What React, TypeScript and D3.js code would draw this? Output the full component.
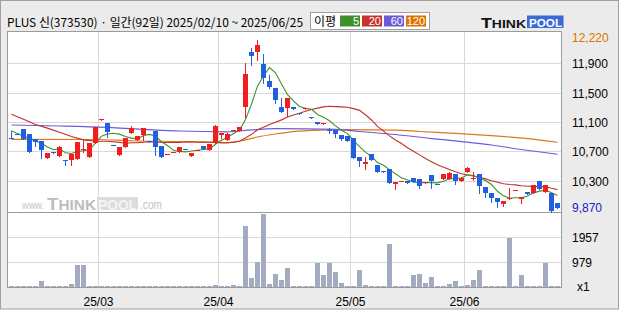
import React from "react";
import * as d3 from "d3";

// ---------- data ----------
const titleText = "PLUS 신(373530) · 일간(92일) 2025/02/10 ~ 2025/06/25";

const dates = [
  "02/10","02/11","02/12","02/13","02/14","02/17","02/18","02/19","02/20","02/21","02/24","02/25","02/26","02/27","02/28",
  "03/04","03/05","03/06","03/07","03/10","03/11","03/12","03/13","03/14","03/17","03/18","03/19","03/20","03/21","03/24","03/25","03/26","03/27","03/28","03/31",
  "04/01","04/02","04/03","04/04","04/07","04/08","04/09","04/10","04/11","04/14","04/15","04/16","04/17","04/18","04/21","04/22","04/23","04/24","04/25","04/28","04/29","04/30",
  "05/02","05/07","05/08","05/09","05/12","05/13","05/14","05/15","05/16","05/19","05/20","05/21","05/22","05/23","05/26","05/27","05/28","05/29","05/30",
  "06/02","06/04","06/05","06/09","06/10","06/11","06/12","06/13","06/16","06/17","06/18","06/19","06/20","06/23","06/24","06/25",
];

const opens = [
  10885,10940,11005,10930,10865,10840,10610,10685,10640,10575,10580,10595,10715,10620,10815,11130,11085,10785,10650,10760,
  10955,10850,10920,10835,10975,10770,10655,10685,10695,10735,10640,10715,10770,10710,10815,10920,10855,10985,10975,11305,
  12060,12055,11885,11660,11565,11305,11290,11300,11215,11275,11170,11100,11075,10985,10990,10920,10910,10875,10620,10530,
  10660,10510,10430,10455,10250,10290,10295,10335,10320,10260,10375,10255,10325,10325,10390,10295,10415,10320,10390,10210,
  10130,10060,9980,10050,10165,10050,10145,10135,10295,10145,10130,9995,
];
const highs = [
  10975,10940,11005,10930,10865,10840,10675,10685,10770,10575,10665,10825,10855,10815,11030,11135,11085,10785,10755,10875,
  11045,10910,11015,10835,10975,10770,10660,10690,10755,10735,10675,10720,10770,10795,11060,10950,10955,10990,11030,11905,
  12115,12220,12025,11740,11565,11420,11425,11300,11215,11285,11170,11100,11085,11015,10990,10920,10910,10875,10620,10615,
  10660,10510,10430,10455,10280,10295,10295,10335,10320,10280,10375,10255,10390,10415,10390,10350,10485,10415,10390,10210,
  10130,10060,10020,10200,10170,10070,10145,10240,10295,10240,10130,9995,
];
const lows = [
  10875,10935,10870,10695,10775,10610,10610,10680,10640,10510,10510,10595,10695,10620,10815,11130,10900,10780,10650,10760,
  10955,10850,10855,10830,10650,10620,10655,10685,10695,10730,10640,10715,10735,10710,10815,10875,10855,10985,10975,11165,
  11880,11950,11635,11565,11360,11240,11180,11280,11205,11275,11160,11075,11075,10945,10900,10855,10840,10610,10500,10460,
  10580,10415,10420,10270,10190,10290,10265,10285,10200,10260,10195,10250,10325,10325,10250,10295,10415,10305,10135,10080,
  10010,9940,9955,10050,10165,9995,10115,10135,10180,10145,9870,9925,
];
const closes = [
  10875,10935,10870,10695,10830,10720,10675,10680,10755,10565,10665,10825,10725,10815,11030,11135,10965,10780,10755,10875,
  11020,10910,11015,10830,10760,10620,10660,10690,10755,10730,10675,10720,10735,10795,11045,10950,10930,10990,11030,11760,
  12005,12155,11705,11580,11405,11240,11425,11280,11205,11285,11160,11075,11085,10975,10935,10865,10840,10610,10565,10555,
  10580,10415,10420,10270,10280,10295,10265,10285,10230,10280,10295,10250,10390,10400,10295,10335,10470,10335,10225,10135,
  10065,10005,10020,10060,10170,10070,10115,10240,10180,10240,9890,9925,
];
const volumes = [
  30,30,30,65,30,260,30,30,65,30,145,885,885,65,65,30,30,30,30,30,
  30,65,65,30,65,30,30,30,30,30,30,30,30,65,105,30,30,105,30,2385,
  352,1004,2860,143,535,300,743,30,30,30,30,952,495,952,613,182,65,65,691,104,
  30,30,30,1707,65,30,30,495,535,182,417,30,30,143,261,30,104,300,691,30,
  30,30,30,1942,65,495,30,30,30,965,30,30,
];

const ma5Head: [number, number][] = [[0, 10980], [1, 10940], [2, 10905], [3, 10875]];
const ma20Head: [number, number][] = [
  [0, 11205], [2, 11135], [4, 11065], [6, 11015], [8, 10960], [10, 10900], [12, 10855], [14, 10835], [16, 10835], [18, 10820],
];
const ma60Samples: [number, number][] = [
  [0, 11058], [8, 11044], [16, 11024], [22, 10999], [28, 10976], [36, 10965], [40, 10990], [44, 11007],
  [54, 10999], [58, 10969], [64, 10928], [70, 10873], [75, 10832], [80, 10785], [85, 10723], [91, 10658],
];
const ma120Samples: [number, number][] = [
  [0, 10862], [14, 10860], [20, 10843], [28, 10832], [36, 10819], [38, 10839], [41, 10894], [44, 10935],
  [46, 10958], [50, 10983], [56, 10995], [64, 10989], [68, 10969], [74, 10944], [80, 10912], [86, 10873], [91, 10822],
];

const priceTicks = [11900, 11500, 11100, 10700, 10300];
const priceTop = 12341;
const volMax = 2936;
const monthTicks = [
  { date: "03/04", label: "25/03" },
  { date: "04/01", label: "25/04" },
  { date: "05/02", label: "25/05" },
  { date: "06/02", label: "25/06" },
];
const legendItems = [
  { label: "5", color: "#3f8f2a" },
  { label: "20", color: "#c8342c" },
  { label: "60", color: "#6b5bd8" },
  { label: "120", color: "#e07000" },
];

function movingAvg(head: [number, number][], n: number): [number, number][] {
  const pts: [number, number][] = head.slice();
  for (let i = n - 1; i < closes.length; i++) {
    pts.push([i, d3.mean(closes.slice(i - n + 1, i + 1)) as number]);
  }
  return pts;
}

export default function App() {
  const W = 620, H = 310;
  const left = 7.5, right = 561.5, top = 31.5, bottom = 287.5, split = 212;
  const RED = "#f01e1e", BLUE = "#1f5fe0";
  const GRID = "#d9d9d9", BORDER = "#9a9a9a";
  const numFont = "'Liberation Sans', Arial, sans-serif";
  const cjkFont = "'Noto Sans CJK KR', 'Noto Sans', sans-serif";

  const x = d3.scaleBand<string>().domain(dates).range([8, 560]);
  const step = x.step();
  const xi = (i: number) => (x(dates[0]) as number) + step * i + step / 2 + 0.5;
  const priceMin = d3.min(lows) as number;
  const priceMax = d3.max(highs) as number;
  const y = d3.scaleLinear().domain([priceMin, priceTop]).range([split, 31]);
  const vy = d3.scaleLinear().domain([0, volMax]).range([287.3, 212.3]);
  const volTicks = [Math.round(volMax * 2 / 3), Math.round(volMax / 3)];
  const fmt = d3.format(",");

  const line = d3.line<[number, number]>().x((d) => xi(d[0])).y((d) => y(d[1]));
  const smooth = d3.line<[number, number]>().x((d) => xi(d[0])).y((d) => y(d[1])).curve(d3.curveMonotoneX);

  const ma5 = movingAvg(ma5Head, 5);
  const ma20 = movingAvg(ma20Head, 20);

  return (
    <svg width={W} height={H} viewBox={`0 0 ${W} ${H}`} style={{ position: "absolute", left: 0, top: 0, display: "block" }}>
      <rect x={0.5} y={0.5} width={W - 2} height={H - 1.5} fill="#ebebeb" stroke="#a0a0a0" />

      {/* title */}
      <text x={7} y={26.5} fontSize={12} fontFamily={cjkFont} fill="#000" textLength={296} lengthAdjust="spacingAndGlyphs">
        {titleText}
      </text>

      {/* legend */}
      <rect x={310.5} y={12.5} width={119} height={17} fill="#fff" stroke="#a0a0a0" />
      <text x={314} y={25.5} fontSize={12} fontFamily={cjkFont} fill="#000">이평</text>
      {legendItems.map((it, k) => {
        const bx = 340 + k * 22;
        return (
          <g key={it.label}>
            <rect x={bx} y={15.5} width={20} height={11} fill={it.color} />
            <text x={bx + 19} y={25} fontSize={11} fontFamily={numFont} fill="#fff" textAnchor="end">{it.label}</text>
          </g>
        );
      })}

      {/* logo */}
      <text x={481} y={27.5} fontFamily={numFont} fontWeight="bold" fill="#111" textLength={45} lengthAdjust="spacingAndGlyphs">
        <tspan fontSize={14}>T</tspan><tspan fontSize={11}>HINK</tspan>
      </text>
      <rect x={527} y={15.5} width={36.5} height={12.5} fill="#3a6ad8" />
      <text x={529} y={27} fontSize={11} fontFamily={numFont} fontWeight="bold" fill="#fff" textLength={33} lengthAdjust="spacingAndGlyphs">POOL</text>

      {/* plot background */}
      <rect x={left} y={top} width={right - left} height={bottom - top} fill="#fff" stroke={BORDER} />

      {/* grid */}
      {monthTicks.map((m) => (
        <line key={m.date} x1={(x(m.date) as number) + 0.5} x2={(x(m.date) as number) + 0.5} y1={top + 0.5} y2={bottom - 0.5} stroke={GRID} />
      ))}
      {priceTicks.map((v) => (
        <line key={v} x1={left + 0.5} x2={right - 0.5} y1={Math.round(y(v)) + 0.5} y2={Math.round(y(v)) + 0.5} stroke={GRID} />
      ))}
      {volTicks.map((v) => (
        <line key={v} x1={left + 0.5} x2={right - 0.5} y1={Math.round(vy(v)) + 0.5} y2={Math.round(vy(v)) + 0.5} stroke={GRID} />
      ))}
      <line x1={left} x2={right} y1={split + 0.5} y2={split + 0.5} stroke={BORDER} />

      {/* watermark */}
      <g fontFamily={numFont}>
        <text x={22} y={209} fontSize={11} fill="#c4c4c4" textLength={22} lengthAdjust="spacingAndGlyphs">www.</text>
        <text x={47} y={209.5} fontWeight="bold" fill="#bdbdbd" textLength={49} lengthAdjust="spacingAndGlyphs">
          <tspan fontSize={17}>T</tspan><tspan fontSize={14}>HINK</tspan>
        </text>
        <rect x={97} y={197} width={41} height={13} fill="#dcdcdc" />
        <text x={98} y={209.5} fontSize={14} fontWeight="bold" fill="#f4f4f4" textLength={39} lengthAdjust="spacingAndGlyphs">POOL</text>
        <text x={140} y={209} fontSize={12} fill="#c4c4c4" textLength={22} lengthAdjust="spacingAndGlyphs">.com</text>
      </g>

      {/* volume */}
      {volumes.map((v, i) => {
        const t = Math.min(286, Math.round(vy(v)));
        return <rect key={i} x={(x(dates[i]) as number) + 1} y={t} width={step - 1} height={287 - t} fill="#a3abc1" />;
      })}

      {/* moving averages */}
      <path d={smooth(ma120Samples) || ""} fill="none" stroke="#e07818" strokeWidth={1.2} />
      <path d={smooth(ma60Samples) || ""} fill="none" stroke="#6b5bd8" strokeWidth={1.2} />
      <path d={line(ma20) || ""} fill="none" stroke="#c0302c" strokeWidth={1.1} />
      <path d={line(ma5) || ""} fill="none" stroke="#3f8f2a" strokeWidth={1.1} />

      {/* candles */}
      {dates.map((d, i) => {
        const o = opens[i], c = closes[i];
        const up = c >= o;
        const col = up ? RED : BLUE;
        const bt = Math.round(y(Math.max(o, c)));
        const bb = Math.round(y(Math.min(o, c)));
        const xc = xi(i);
        return (
          <g key={d}>
            <line x1={xc} x2={xc} y1={Math.round(y(highs[i]))} y2={Math.round(y(lows[i])) + 1} stroke={col} />
            <rect x={(x(d) as number) + 1} y={bt} width={step - 1} height={Math.max(1, bb - bt)} fill={col} />
          </g>
        );
      })}

      {/* price axis labels */}
      <g fontFamily={numFont} fontSize={12}>
        <text x={572} y={Math.max(top + 6, y(priceMax) - 2)} dominantBaseline="central" fill="#e07000">{fmt(priceMax)}</text>
        {priceTicks.map((v) => (
          <text key={v} x={572} y={Math.round(y(v)) + 0.5} dominantBaseline="central" fill="#000">{fmt(v)}</text>
        ))}
        <text x={572} y={Math.min(split - 4, y(priceMin))} dominantBaseline="central" fill="#2020c8">{fmt(priceMin)}</text>
        {volTicks.map((v) => (
          <text key={v} x={572} y={Math.round(vy(v)) + 0.5} dominantBaseline="central" fill="#000">{v}</text>
        ))}
        <text x={577} y={286.5} dominantBaseline="central" fill="#000">x1</text>
        {monthTicks.map((m) => (
          <text key={m.label} x={(x(m.date) as number) + 0.5} y={301.5} dominantBaseline="central" textAnchor="middle" fill="#000">{m.label}</text>
        ))}
      </g>
    </svg>
  );
}
